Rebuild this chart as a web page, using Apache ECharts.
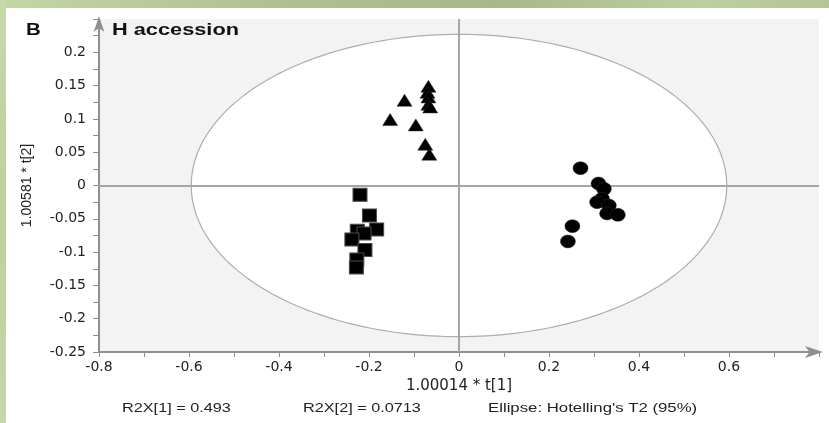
<!DOCTYPE html>
<html>
<head>
<meta charset="utf-8">
<script src="https://cdn.jsdelivr.net/npm/echarts@6/dist/echarts.min.js"></script>
<style>
  html, body { margin: 0; padding: 0; background: #ffffff; }
  #chart { width: 829px; height: 423px; }
</style>
</head>
<body>
<div id="chart"></div>
<script>
// PCA score plot, H accession: scores t[1] / t[2] for three sample groups
const groupTriangle = [
  [-0.068, 0.149], [-0.070, 0.140], [-0.068, 0.133], [-0.068, 0.122], [-0.064, 0.118],
  [-0.121, 0.128], [-0.153, 0.099], [-0.096, 0.091], [-0.075, 0.062], [-0.066, 0.047]
];
const groupSquare = [
  [-0.220, -0.014], [-0.199, -0.045], [-0.183, -0.066], [-0.226, -0.068], [-0.211, -0.072],
  [-0.238, -0.081], [-0.209, -0.097], [-0.227, -0.111], [-0.228, -0.123]
];
const groupCircle = [
  [0.270, 0.026], [0.310, 0.003], [0.322, -0.005], [0.318, -0.020], [0.307, -0.025],
  [0.333, -0.030], [0.329, -0.042], [0.353, -0.044], [0.252, -0.061], [0.242, -0.084]
];
// Hotelling's T2 (95%) ellipse: centre and semi-axes in score units
const ellipseCenter = [0, 0];
const ellipseSemiAxes = [0.595, 0.227];
// Axis ranges and tick steps
const xRange = [-0.8, 0.8];
const yRange = [-0.25, 0.25];
const xStep = 0.2;
const yStep = 0.05;
// Footer statistics
const footerTexts = ['R2X[1] = 0.493', 'R2X[2] = 0.0713', "Ellipse: Hotelling's T2 (95%)"];

const FONT = '"Liberation Sans", Arial, sans-serif';
const WIDE_FONT = '"DejaVu Sans", sans-serif';
const AXIS_GRAY = '#8f8f8f';
const TEXT_STRETCH = 1.28;

const chart = echarts.init(document.getElementById('chart'), null, { renderer: 'canvas' });

const fmt = v => String(Math.round(v * 1000) / 1000);

const option = {
  animation: false,
  backgroundColor: '#ffffff',
  grid: {
    left: 99, right: 10, top: 19, bottom: 71,
    show: true, backgroundColor: '#f3f3f3', borderWidth: 0
  },
  xAxis: {
    type: 'value', min: xRange[0], max: xRange[1], interval: xStep,
    name: '1.00014 * t[1]', nameLocation: 'middle', nameGap: 27,
    nameTextStyle: { fontFamily: WIDE_FONT, fontSize: 15, color: '#222' },
    axisLine: { show: true, onZero: false, symbol: ['none', 'arrow'], symbolSize: [9, 18], symbolOffset: [0, 4],
      lineStyle: { color: AXIS_GRAY, width: 2 } },
    axisTick: { show: true, length: 5, lineStyle: { color: AXIS_GRAY, width: 1 } },
    minorTick: { show: true, splitNumber: 2, length: 5, lineStyle: { color: AXIS_GRAY, width: 1 } },
    axisLabel: { fontFamily: WIDE_FONT, fontSize: 14, color: '#222', margin: 8, showMaxLabel: false, formatter: fmt },
    splitLine: { show: false }
  },
  yAxis: {
    type: 'value', min: yRange[0], max: yRange[1], interval: yStep,
    name: '1.00581 * t[2]', nameLocation: 'middle', nameGap: 65,
    nameTextStyle: { fontFamily: FONT, fontSize: 14, color: '#222' },
    axisLine: { show: true, onZero: false, symbol: ['none', 'arrow'], symbolSize: [8, 16], symbolOffset: [0, 3],
      lineStyle: { color: AXIS_GRAY, width: 2 } },
    axisTick: { show: true, length: 6, lineStyle: { color: AXIS_GRAY, width: 1 } },
    minorTick: { show: true, splitNumber: 2, length: 6, lineStyle: { color: AXIS_GRAY, width: 1 } },
    axisLabel: { fontFamily: WIDE_FONT, fontSize: 14, color: '#222', margin: 13, showMaxLabel: false, formatter: fmt },
    splitLine: { show: false }
  },
  graphic: [
    // decorative green page border
    { type: 'rect', left: 0, top: 0, z: -10, shape: { width: 829, height: 8 },
      style: { fill: new echarts.graphic.LinearGradient(0, 0, 1, 0, [
        { offset: 0, color: '#c3d6a6' }, { offset: 0.35, color: '#aebf92' },
        { offset: 0.6, color: '#a7b98b' }, { offset: 0.85, color: '#bccfa0' }, { offset: 1, color: '#b3c597' }]) } },
    { type: 'rect', left: 0, top: 0, z: -10, shape: { width: 6, height: 423 },
      style: { fill: new echarts.graphic.LinearGradient(0, 0, 0, 1, [
        { offset: 0, color: '#c6d9a9' }, { offset: 0.5, color: '#bcd19e' }, { offset: 1, color: '#c4d8a7' }]) } },
    { type: 'text', left: 26, top: 23, scaleX: TEXT_STRETCH,
      style: { text: 'B', font: 'bold 16px ' + FONT, fill: '#111' } },
    { type: 'text', left: 112, top: 22, scaleX: TEXT_STRETCH,
      style: { text: 'H accession', font: 'bold 17px ' + FONT, fill: '#111' } },
    { type: 'text', left: 122, top: 402, scaleX: 1.25,
      style: { text: footerTexts[0], font: '13px ' + FONT, fill: '#222' } },
    { type: 'text', left: 303, top: 402, scaleX: 1.25,
      style: { text: footerTexts[1], font: '13px ' + FONT, fill: '#222' } },
    { type: 'text', left: 488, top: 402, scaleX: 1.29,
      style: { text: footerTexts[2], font: '13px ' + FONT, fill: '#222' } }
  ],
  series: [
    {
      // confidence ellipse with white fill
      type: 'custom',
      z: 1,
      silent: true,
      data: [[ellipseCenter[0], ellipseCenter[1], ellipseSemiAxes[0], ellipseSemiAxes[1]]],
      renderItem: function (params, api) {
        const cx = api.value(0), cy = api.value(1), a = api.value(2), b = api.value(3);
        const pts = [];
        const n = 240;
        for (let i = 0; i < n; i++) {
          const t = (i / n) * Math.PI * 2;
          pts.push(api.coord([cx + a * Math.cos(t), cy + b * Math.sin(t)]));
        }
        return {
          type: 'polygon',
          shape: { points: pts, smooth: 0 },
          style: { fill: '#ffffff', stroke: '#adadad', lineWidth: 1.2 }
        };
      }
    },
    {
      // origin cross-hair
      type: 'scatter', z: 2, data: [], silent: true,
      markLine: {
        silent: true, symbol: ['none', 'none'], label: { show: false },
        lineStyle: { color: '#a6a6a6', width: 2, type: 'solid' },
        data: [{ xAxis: 0 }, { yAxis: 0 }]
      }
    },
    {
      type: 'scatter', z: 5, symbol: 'triangle', symbolSize: [15, 12],
      itemStyle: { color: '#000000', borderColor: '#2a2a2a', borderWidth: 0.5, opacity: 1 },
      data: groupTriangle
    },
    {
      type: 'scatter', z: 5, symbol: 'rect', symbolSize: [14, 13],
      itemStyle: { color: '#000000', borderColor: '#4a4a4a', borderWidth: 1, opacity: 1 },
      data: groupSquare
    },
    {
      type: 'scatter', z: 5, symbol: 'circle', symbolSize: [15, 13],
      itemStyle: { color: '#000000', borderColor: '#2a2a2a', borderWidth: 0.5, opacity: 1 },
      data: groupCircle
    }
  ]
};

chart.setOption(option);
</script>
</body>
</html>
